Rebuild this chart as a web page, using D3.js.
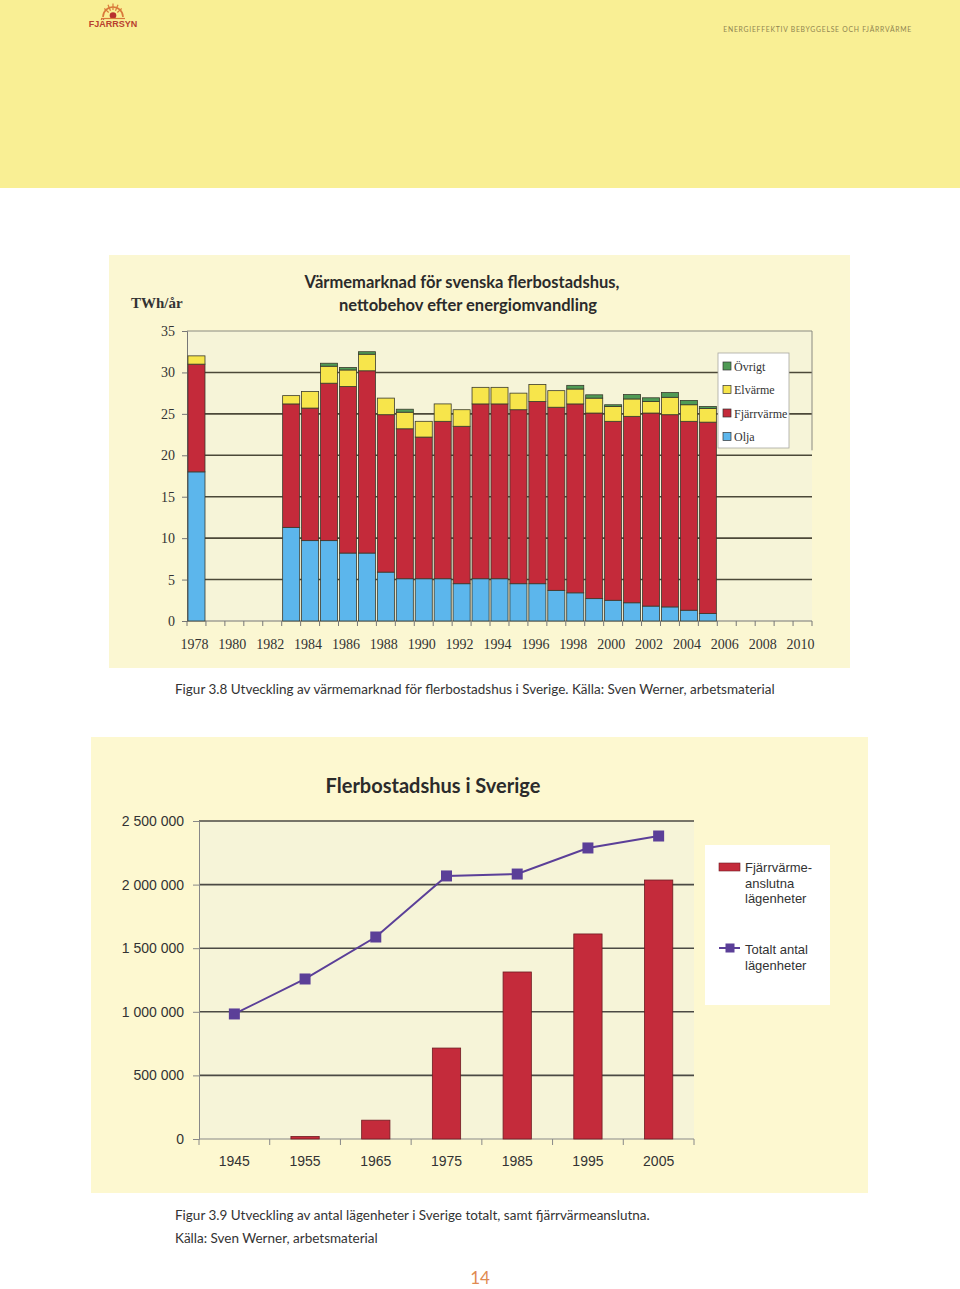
<!DOCTYPE html>
<html>
<head>
<meta charset="utf-8">
<script src="https://cdn.jsdelivr.net/npm/d3@7"></script>
<style>
  body { margin: 0; background: #fff; }
  svg { display: block; }
</style>
</head>
<body>
<div id="page"></div>
<script>
/*
 * Data: chart 1 (TWh/år per year and source)
 *
 */
const years1 = [1978, 1983, 1984, 1985, 1986, 1987, 1988, 1989, 1990, 1991, 1992, 1993,
  1994, 1995, 1996, 1997, 1998, 1999, 2000, 2001, 2002, 2003, 2004, 2005];
const olja = [18.0, 11.3, 9.7, 9.7, 8.2, 8.2, 5.9, 5.1, 5.1, 5.1, 4.5, 5.1,
  5.1, 4.5, 4.5, 3.7, 3.4, 2.7, 2.5, 2.2, 1.8, 1.7, 1.3, 0.9];
const fjarrvarme = [13.0, 14.9, 16.0, 19.0, 20.1, 22.0, 19.0, 18.1, 17.1, 19.0, 19.0, 21.1,
  21.1, 21.0, 22.0, 22.1, 22.8, 22.4, 21.6, 22.5, 23.3, 23.2, 22.8, 23.1];
const elvarme = [1.0, 1.0, 2.0, 2.05, 2.0, 2.0, 2.0, 2.0, 1.9, 2.1, 2.0, 2.0,
  2.0, 2.0, 2.05, 2.0, 1.8, 1.8, 1.8, 2.1, 1.4, 2.1, 2.0, 1.65];
const ovrigt = [0, 0, 0, 0.36, 0.3, 0.3, 0, 0.36, 0, 0, 0, 0,
  0, 0, 0, 0, 0.44, 0.4, 0.2, 0.53, 0.44, 0.57, 0.52, 0.24];
const axisYears1 = d3.range(1978, 2011);
const yTicks1 = [0, 5, 10, 15, 20, 25, 30, 35];
const series1 = ['Olja', 'Fjärrvärme', 'Elvärme', 'Övrigt'];

/*
 * Data: chart 2 (antal lägenheter)
 *
 */
const years2 = ['1945', '1955', '1965', '1975', '1985', '1995', '2005'];
const anslutna = [0, 20000, 148000, 715000, 1313000, 1612000, 2036000];
const totalt = [983000, 1258000, 1588000, 2068000, 2083000, 2288000, 2382000];
const yTicks2 = [0, 500000, 1000000, 1500000, 2000000, 2500000];

const colors1 = {
  'Olja': '#5cb6ec',
  'Fjärrvärme': '#c42a3a',
  'Elvärme': '#f7e54b',
  'Övrigt': '#4f9a55'
};
const red2 = '#c42b3b', purple = '#5b3f98';

const svg = d3.select('#page').append('svg')
  .attr('width', 960)
  .attr('height', 1289);

/*
 * Page header
 *
 */
svg.append('rect').attr('x', 0).attr('y', 0).attr('width', 960).attr('height', 188)
  .attr('fill', '#f9ef94');

const logo = svg.append('g').attr('transform', 'translate(113,15)');
logo.append('path')
  .attr('d', 'M-10,2 A10,10 0 0 1 10,2')
  .attr('fill', 'none').attr('stroke', '#d9793a').attr('stroke-width', 1.6);
[-60, -30, 0, 30, 60].forEach(a => {
  const r = a * Math.PI / 180;
  logo.append('line')
    .attr('x1', Math.sin(r) * 5).attr('y1', -Math.cos(r) * 5)
    .attr('x2', Math.sin(r) * 10).attr('y2', -Math.cos(r) * 10 - 1.5)
    .attr('stroke', '#d9793a').attr('stroke-width', 1.2);
});
logo.append('circle').attr('cx', 0).attr('cy', 0.5).attr('r', 3.3).attr('fill', '#b8302e');
logo.append('line').attr('x1', -12).attr('x2', 12).attr('y1', 3.5).attr('y2', 3.5)
  .attr('stroke', '#d9793a').attr('stroke-width', 1.2);
logo.append('text').attr('x', 0).attr('y', 11.5)
  .attr('text-anchor', 'middle')
  .style('font-family', "'Liberation Sans', Arial, sans-serif")
  .style('font-size', '9px').style('font-weight', 'bold')
  .attr('fill', '#b8402e')
  .text('FJÄRRSYN');

svg.append('text').attr('x', 912).attr('y', 32)
  .attr('text-anchor', 'end')
  .style('font-family', "'Lato', sans-serif")
  .style('font-size', '6.8px')
  .style('letter-spacing', '0.75px')
  .attr('fill', '#8f8450')
  .text('ENERGIEFFEKTIV BEBYGGELSE OCH FJÄRRVÄRME');

/*
 * Chart 1: stacked bars
 *
 */
const serif = "'Liberation Serif', 'Times New Roman', serif";
const sans = "'Liberation Sans', Arial, sans-serif";
const titleFont = "'Lato', 'Open Sans', sans-serif";

svg.append('rect').attr('x', 109).attr('y', 255).attr('width', 741).attr('height', 413)
  .attr('fill', '#fbf7d2');

const p1 = { left: 187, right: 812, top: 331, bottom: 621 };

const x1 = d3.scaleBand()
  .domain(axisYears1)
  .range([p1.left, p1.right])
  .paddingInner(0.1)
  .paddingOuter(0.05);
const y1 = d3.scaleLinear()
  .domain([0, 35])
  .range([p1.bottom, p1.top]);

svg.append('rect').attr('x', p1.left).attr('y', p1.top)
  .attr('width', p1.right - p1.left).attr('height', p1.bottom - p1.top)
  .attr('fill', '#f6f4d8');

svg.append('text').attr('x', 131).attr('y', 308)
  .style('font-family', serif).style('font-size', '15px').style('font-weight', 'bold')
  .attr('fill', '#333')
  .text('TWh/år');

const title1 = svg.append('text')
  .style('font-family', titleFont).style('font-size', '16.5px').style('font-weight', 'bold')
  .attr('fill', '#2b2b2b').attr('text-anchor', 'middle');
title1.append('tspan').attr('x', 462).attr('y', 288).text('Värmemarknad för svenska flerbostadshus,');
title1.append('tspan').attr('x', 468).attr('y', 311).text('nettobehov efter energiomvandling');

// gridlines
svg.append('g').selectAll('line')
  .data(yTicks1.filter(d => d > 0 && d < 35))
  .enter().append('line')
  .attr('x1', p1.left).attr('x2', p1.right)
  .attr('y1', d => y1(d)).attr('y2', d => y1(d))
  .attr('stroke', '#4b4838').attr('stroke-width', 1.6);
svg.append('line')
  .attr('x1', p1.left).attr('x2', p1.right)
  .attr('y1', y1(35)).attr('y2', y1(35))
  .attr('stroke', '#8a8a80').attr('stroke-width', 1);
svg.append('line')
  .attr('x1', p1.right).attr('x2', p1.right)
  .attr('y1', y1(35)).attr('y2', y1(20.6))
  .attr('stroke', '#8a8a80').attr('stroke-width', 1);

// y axis
const yAxis1 = svg.append('g')
  .attr('transform', `translate(${p1.left},0)`)
  .call(d3.axisLeft(y1).tickValues(yTicks1).tickSize(5).tickPadding(7));
yAxis1.select('.domain').attr('stroke', '#777');
yAxis1.selectAll('.tick line').attr('stroke', '#777');
yAxis1.selectAll('text')
  .style('font-family', serif).style('font-size', '14px').attr('fill', '#333');

// x axis
const step1 = x1.step();
const bounds1 = axisYears1.map(d => x1(d) - step1 * 0.05).concat([p1.right]);
svg.append('line')
  .attr('x1', p1.left).attr('x2', p1.right)
  .attr('y1', p1.bottom).attr('y2', p1.bottom)
  .attr('stroke', '#777').attr('stroke-width', 1);
svg.append('g').selectAll('line')
  .data(bounds1).enter().append('line')
  .attr('x1', d => d).attr('x2', d => d)
  .attr('y1', p1.bottom).attr('y2', p1.bottom + 5)
  .attr('stroke', '#777');
svg.append('g').selectAll('text')
  .data(axisYears1.filter(d => d % 2 === 0))
  .enter().append('text')
  .attr('x', d => x1(d) + x1.bandwidth() / 2 - 2)
  .attr('y', 649)
  .attr('text-anchor', 'middle')
  .style('font-family', serif).style('font-size', '14px')
  .attr('fill', '#333')
  .text(d => d);

// bars
const rows1 = years1.map((yr, i) => ({
  year: yr,
  'Olja': olja[i],
  'Fjärrvärme': fjarrvarme[i],
  'Elvärme': elvarme[i],
  'Övrigt': ovrigt[i]
}));
const stacked = d3.stack().keys(series1)(rows1);

svg.append('g').selectAll('g')
  .data(stacked)
  .enter().append('g')
  .attr('fill', d => colors1[d.key])
  .selectAll('rect')
  .data(d => d.filter(p => p[1] - p[0] > 0))
  .enter().append('rect')
  .attr('x', d => x1(d.data.year))
  .attr('y', d => y1(d[1]))
  .attr('width', x1.bandwidth())
  .attr('height', d => y1(d[0]) - y1(d[1]))
  .attr('stroke', '#3a3a2c')
  .attr('stroke-width', 0.8);

// legend 1
const leg1 = svg.append('g').attr('transform', 'translate(718,353)');
leg1.append('rect').attr('width', 71).attr('height', 95)
  .attr('fill', '#ffffff').attr('stroke', '#a8a8a0').attr('stroke-width', 0.8);
series1.slice().reverse().forEach((k, i) => {
  const g = leg1.append('g').attr('transform', `translate(5,${13 + i * 23.5})`);
  g.append('rect').attr('width', 8).attr('height', 8).attr('y', -4)
    .attr('fill', colors1[k]).attr('stroke', '#333').attr('stroke-width', 0.7);
  g.append('text').attr('x', 11).attr('y', 4.5)
    .style('font-family', serif).style('font-size', '12px')
    .attr('fill', '#333').text(k);
});

// caption 1
svg.append('text').attr('x', 175).attr('y', 694)
  .style('font-family', titleFont).style('font-size', '13.5px')
  .attr('fill', '#333')
  .text('Figur 3.8  Utveckling av värmemarknad för flerbostadshus i Sverige. Källa: Sven Werner, arbetsmaterial');

/*
 * Chart 2: bars + line
 *
 */
svg.append('rect').attr('x', 91).attr('y', 737).attr('width', 777).attr('height', 456)
  .attr('fill', '#fdf8d0');

const p2 = { left: 199, right: 694, top: 821, bottom: 1139 };
const x2 = d3.scaleBand()
  .domain(years2)
  .range([p2.left, p2.right])
  .paddingInner(0.6)
  .paddingOuter(0.3);
const y2 = d3.scaleLinear()
  .domain([0, 2500000])
  .range([p2.bottom, p2.top]);

svg.append('rect').attr('x', p2.left).attr('y', p2.top)
  .attr('width', p2.right - p2.left).attr('height', p2.bottom - p2.top)
  .attr('fill', '#f6f4d8');

svg.append('text').attr('x', 433).attr('y', 793)
  .attr('text-anchor', 'middle')
  .style('font-family', titleFont).style('font-size', '20px').style('font-weight', 'bold')
  .attr('fill', '#2b2b2b')
  .text('Flerbostadshus i Sverige');

svg.append('g').selectAll('line')
  .data(yTicks2.filter(d => d > 0))
  .enter().append('line')
  .attr('x1', p2.left).attr('x2', p2.right)
  .attr('y1', d => y2(d)).attr('y2', d => y2(d))
  .attr('stroke', '#4b4a44').attr('stroke-width', 1.6);

const fmt = d => d3.format(',')(d).replace(/,/g, ' ');
const yAxis2 = svg.append('g')
  .attr('transform', `translate(${p2.left},0)`)
  .call(d3.axisLeft(y2).tickValues(yTicks2).tickFormat(fmt).tickSize(6).tickPadding(9));
yAxis2.select('.domain').attr('stroke', '#888');
yAxis2.selectAll('.tick line').attr('stroke', '#888');
yAxis2.selectAll('text')
  .style('font-family', sans).style('font-size', '14px').attr('fill', '#333');

const step2 = x2.step();
const bounds2 = years2.map(d => x2(d) - step2 * 0.3).concat([p2.right]);
svg.append('line')
  .attr('x1', p2.left).attr('x2', p2.right)
  .attr('y1', p2.bottom).attr('y2', p2.bottom)
  .attr('stroke', '#888');
svg.append('g').selectAll('line')
  .data(bounds2).enter().append('line')
  .attr('x1', d => d).attr('x2', d => d)
  .attr('y1', p2.bottom).attr('y2', p2.bottom + 6)
  .attr('stroke', '#888');
svg.append('g').selectAll('text')
  .data(years2).enter().append('text')
  .attr('x', d => x2(d) + x2.bandwidth() / 2)
  .attr('y', 1166)
  .attr('text-anchor', 'middle')
  .style('font-family', sans).style('font-size', '14px')
  .attr('fill', '#333')
  .text(d => d);

svg.append('g').selectAll('rect')
  .data(years2.map((yr, i) => ({ year: yr, v: anslutna[i] })).filter(d => d.v > 0))
  .enter().append('rect')
  .attr('x', d => x2(d.year))
  .attr('y', d => y2(d.v))
  .attr('width', x2.bandwidth())
  .attr('height', d => y2(0) - y2(d.v))
  .attr('fill', red2)
  .attr('stroke', '#6e1c22').attr('stroke-width', 0.8);

const pts = years2.map((yr, i) => ({ year: yr, v: totalt[i] }));
const line = d3.line()
  .x(d => x2(d.year) + x2.bandwidth() / 2)
  .y(d => y2(d.v));
svg.append('path').datum(pts)
  .attr('d', line)
  .attr('fill', 'none').attr('stroke', purple).attr('stroke-width', 2);
svg.append('g').selectAll('rect')
  .data(pts).enter().append('rect')
  .attr('x', d => x2(d.year) + x2.bandwidth() / 2 - 5.5)
  .attr('y', d => y2(d.v) - 5.5)
  .attr('width', 11).attr('height', 11)
  .attr('fill', purple);

// legend 2
const leg2 = svg.append('g').attr('transform', 'translate(705,845)');
leg2.append('rect').attr('width', 125).attr('height', 160).attr('fill', '#ffffff');
leg2.append('rect').attr('x', 14).attr('y', 18).attr('width', 21).attr('height', 8)
  .attr('fill', red2).attr('stroke', '#6e1c22').attr('stroke-width', 0.6);
const lt1 = leg2.append('text')
  .style('font-family', sans).style('font-size', '13px').attr('fill', '#333');
['Fjärrvärme-', 'anslutna', 'lägenheter'].forEach((t, i) => {
  lt1.append('tspan').attr('x', 40).attr('y', 27 + i * 15.5).text(t);
});
leg2.append('line').attr('x1', 14).attr('x2', 35).attr('y1', 103).attr('y2', 103)
  .attr('stroke', purple).attr('stroke-width', 2);
leg2.append('rect').attr('x', 20.5).attr('y', 98.5).attr('width', 9).attr('height', 9)
  .attr('fill', purple);
const lt2 = leg2.append('text')
  .style('font-family', sans).style('font-size', '13px').attr('fill', '#333');
['Totalt antal', 'lägenheter'].forEach((t, i) => {
  lt2.append('tspan').attr('x', 40).attr('y', 109 + i * 15.5).text(t);
});

// caption 2
const cap2 = svg.append('text')
  .style('font-family', titleFont).style('font-size', '13.5px')
  .attr('fill', '#333');
cap2.append('tspan').attr('x', 175).attr('y', 1220)
  .text('Figur 3.9  Utveckling av antal lägenheter i Sverige totalt, samt fjärrvärmeanslutna.');
cap2.append('tspan').attr('x', 175).attr('y', 1243)
  .text('Källa: Sven Werner, arbetsmaterial');

// page number
svg.append('text').attr('x', 480).attr('y', 1284)
  .attr('text-anchor', 'middle')
  .style('font-family', titleFont).style('font-size', '17px')
  .attr('fill', '#df8a52')
  .text('14');
</script>
</body>
</html>
